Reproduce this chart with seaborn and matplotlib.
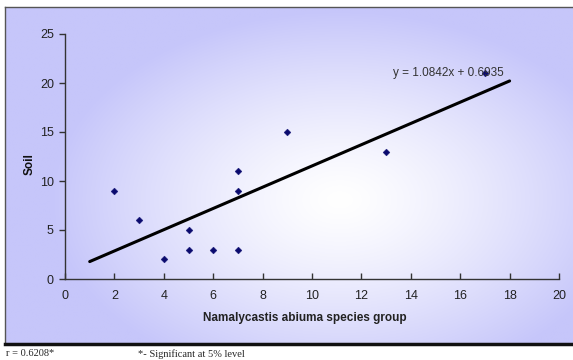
import numpy as np
import matplotlib
matplotlib.use("Agg")
import matplotlib.pyplot as plt
import seaborn as sns
import pandas as pd

# data
x_vals = [2, 3, 4, 5, 5, 6, 7, 7, 7, 9, 13, 17]
y_vals = [9, 6, 2, 5, 3, 3, 3, 9, 11, 15, 13, 21]
slope = 1.0842
intercept = 0.6935
line_x = [1, 18]
x_ticks = [0, 2, 4, 6, 8, 10, 12, 14, 16, 18, 20]
y_ticks = [0, 5, 10, 15, 20, 25]
equation = "y = 1.0842x + 0.6935"
x_label = "Namalycastis abiuma species group"
y_label = "Soil"
note_r = "r = 0.6208*"
note_sig = "*- Significant at 5% level"

sns.set_style("white")
plt.rcParams['font.family'] = ['Liberation Sans', 'DejaVu Sans']

W, H = 573, 360
fig = plt.figure(figsize=(W / 100, H / 100), dpi=100)

# background box with gradient
bx0, by0, bx1, by1 = 5, 7, 573, 344
bg = fig.add_axes([bx0 / W, 1 - by1 / H, (bx1 - bx0) / W, (by1 - by0) / H])
gx, gy = np.meshgrid(np.linspace(bx0, bx1, 400), np.linspace(by0, by1, 240))
cx, cy = 340, 200
d = np.sqrt(((gx - cx) / 290) ** 2 + ((gy - cy) / 190) ** 2)
t = np.clip(d, 0, 1) ** 1.3
edge = np.array([198, 198, 250]) / 255
white = np.array([1.0, 1.0, 1.0])
img = white[None, None, :] * (1 - t[..., None]) + edge[None, None, :] * t[..., None]
bg.imshow(img, aspect='auto', extent=[0, 1, 0, 1], zorder=0)
bg.set_xlim(0, 1)
bg.set_ylim(0, 1)
bg.set_xticks([])
bg.set_yticks([])
for s in ['top', 'left']:
    bg.spines[s].set_color('#555555')
    bg.spines[s].set_linewidth(1.0)
bg.spines['right'].set_visible(False)
bg.spines['bottom'].set_color('#111111')
bg.spines['bottom'].set_linewidth(2.5)

# main axes
ax = fig.add_axes([65 / W, 1 - 279 / H, (559 - 65) / W, (279 - 34) / H])
ax.patch.set_alpha(0)
df = pd.DataFrame({"x": x_vals, "y": y_vals})
sns.scatterplot(data=df, x="x", y="y", ax=ax, marker="D", s=12,
                color="#0a0a6e", edgecolor="#0a0a6e", linewidth=0.3, zorder=3)
lx = np.array(line_x, dtype=float)
sns.lineplot(x=lx, y=slope * lx + intercept, ax=ax, color="black", linewidth=2.2, zorder=2)

ax.set_xlim(0, 20)
ax.set_ylim(0, 25)
ax.set_xticks(x_ticks)
ax.set_yticks(y_ticks)
ax.tick_params(axis='y', direction='out', length=4, width=1, color='#333333',
               labelsize=9, labelcolor='#222222', pad=4, left=True)
ax.tick_params(axis='x', direction='in', length=4, width=1, color='#333333',
               labelsize=9, labelcolor='#222222', pad=8, bottom=True)
for s in ['top', 'right']:
    ax.spines[s].set_visible(False)
for s in ['left', 'bottom']:
    ax.spines[s].set_color('#333333')
    ax.spines[s].set_linewidth(1.0)
ax.set_xlabel(x_label, fontsize=8.5, fontweight='bold', color='#222222', labelpad=8)
ax.xaxis.set_label_coords(0.485, -0.135)
ax.set_ylabel(y_label, fontsize=8.5, fontweight='bold', color='#111111')
ax.yaxis.set_label_coords(-0.06, 0.47)
ax.text(17.75, 21.0, equation, fontsize=8.5, color='#333333', ha='right', va='center')

fig.text(6 / W, 1 - 354 / H, note_r, family='Liberation Serif', fontsize=7.5, va='center')
fig.text(138 / W, 1 - 354 / H, note_sig, family='Liberation Serif', fontsize=7.5, va='center')

fig.savefig("out.png", dpi=100)
